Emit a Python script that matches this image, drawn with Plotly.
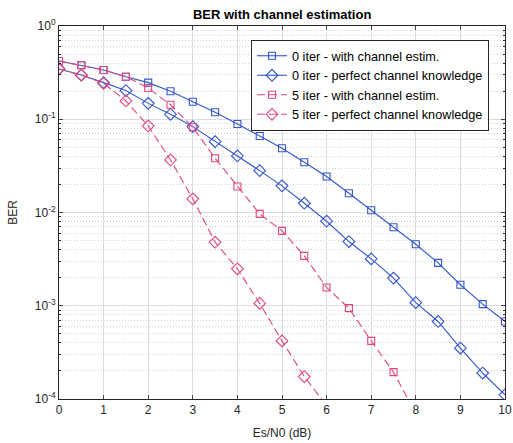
import plotly.graph_objects as go

snr = [0, 0.5, 1, 1.5, 2, 2.5, 3, 3.5, 4, 4.5, 5, 5.5, 6, 6.5, 7, 7.5, 8, 8.5, 9, 9.5, 10]

ber_0_est = [0.421, 0.379, 0.338, 0.286, 0.247, 0.200, 0.154, 0.119, 0.089, 0.0662, 0.0489,
             0.0346, 0.0243, 0.0161, 0.01057, 0.00695, 0.00456, 0.00288, 0.00168, 0.00104, 0.000678]
ber_0_perf = [0.346, 0.298, 0.247, 0.203, 0.148, 0.113, 0.0834, 0.0575, 0.0404, 0.0281, 0.0193,
              0.01257, 0.00806, 0.00488, 0.00318, 0.00198, 0.00108, 0.000678, 0.000351, 0.00019, 0.000111]
snr_5_est = [0, 0.5, 1, 1.5, 2, 2.5, 3, 3.5, 4, 4.5, 5, 5.5, 6, 6.5, 7, 7.5, 8]
ber_5_est = [0.421, 0.379, 0.338, 0.286, 0.216, 0.143, 0.082, 0.0382, 0.019, 0.00966, 0.00635,
             0.00343, 0.00157, 0.000942, 0.00042, 0.000194, 0.00007]
snr_5_perf = [0, 0.5, 1, 1.5, 2, 2.5, 3, 3.5, 4, 4.5, 5, 5.5, 6]
ber_5_perf = [0.346, 0.298, 0.243, 0.157, 0.0848, 0.0366, 0.014, 0.0048, 0.00249, 0.00106,
              0.00042, 0.000174, 0.000085]

names = ["0 iter - with channel estim.", "0 iter - perfect channel knowledge",
         "5 iter - with channel estim.", "5 iter - perfect channel knowledge"]

x_ticks = [0, 1, 2, 3, 4, 5, 6, 7, 8, 9, 10]
y_tickvals = [1, 0.1, 0.01, 0.001, 0.0001]
y_ticktext = ["10<sup>0</sup>", "10<sup>-1</sup>", "10<sup>-2</sup>", "10<sup>-3</sup>", "10<sup>-4</sup>"]

BLUE = "#3355cc"
PINK = "#e0457b"

fig = go.Figure()
specs = [
    (snr, ber_0_est, names[0], BLUE, "square-open", "solid"),
    (snr, ber_0_perf, names[1], BLUE, "diamond-open", "solid"),
    (snr_5_est, ber_5_est, names[2], PINK, "square-open", "8px,4px"),
    (snr_5_perf, ber_5_perf, names[3], PINK, "diamond-open", "8px,4px"),
]
for xs, ys, nm, col, sym, dash in specs:
    fig.add_trace(go.Scatter(
        x=xs, y=ys, name=nm, mode="lines+markers",
        line=dict(color=col, width=1.1, dash=dash),
        marker=dict(symbol=sym, size=9 if "diamond" in sym else 7,
                    color=col, line=dict(color=col, width=1.1)),
        cliponaxis=True,
    ))

fig.update_layout(
    width=513, height=443,
    margin=dict(l=59, r=8, t=26, b=44, autoexpand=False),
    paper_bgcolor="white", plot_bgcolor="white",
    font=dict(family="Liberation Sans, Arial, sans-serif", size=12, color="#262626"),
    title=dict(text="<b>BER with channel estimation</b>", x=0.55, xanchor="center",
               y=0.968, yanchor="middle", font=dict(size=13, color="#000000")),
    showlegend=True,
    legend=dict(x=0.4305, y=0.9625, xanchor="left", yanchor="top",
                bgcolor="white", bordercolor="#262626", borderwidth=1,
                font=dict(size=12.7, color="#000000"), tracegroupgap=0,
                itemwidth=30),
)
fig.update_xaxes(
    range=[0, 10], tickvals=x_ticks, ticks="inside", ticklen=4, automargin=False,
    showline=True, linecolor="#262626", linewidth=1, mirror="ticks",
    showgrid=True, gridcolor="#dcdcdc", gridwidth=1, zeroline=False,
    title=dict(text="Es/N0 (dB)", standoff=12, font=dict(size=12)),
    tickfont=dict(size=12),
)
fig.update_yaxes(
    type="log", range=[-4, 0], tickvals=y_tickvals, ticktext=y_ticktext,
    ticks="inside", ticklen=4, automargin=False,
    showline=True, linecolor="#262626", linewidth=1, mirror="ticks",
    showgrid=True, gridcolor="#dcdcdc", gridwidth=1, zeroline=False,
    minor=dict(dtick="D1", showgrid=True, gridcolor="#cfcfcf", griddash="1px,2px",
               ticks="inside", ticklen=2, tickcolor="#262626"),
    title=dict(text="BER", standoff=14, font=dict(size=12)),
    tickfont=dict(size=12),
)

fig.write_html(
    "out.html",
    config={"displayModeBar": False},
    post_script="document.body.style.margin='0';document.body.style.overflow='hidden';",
)
